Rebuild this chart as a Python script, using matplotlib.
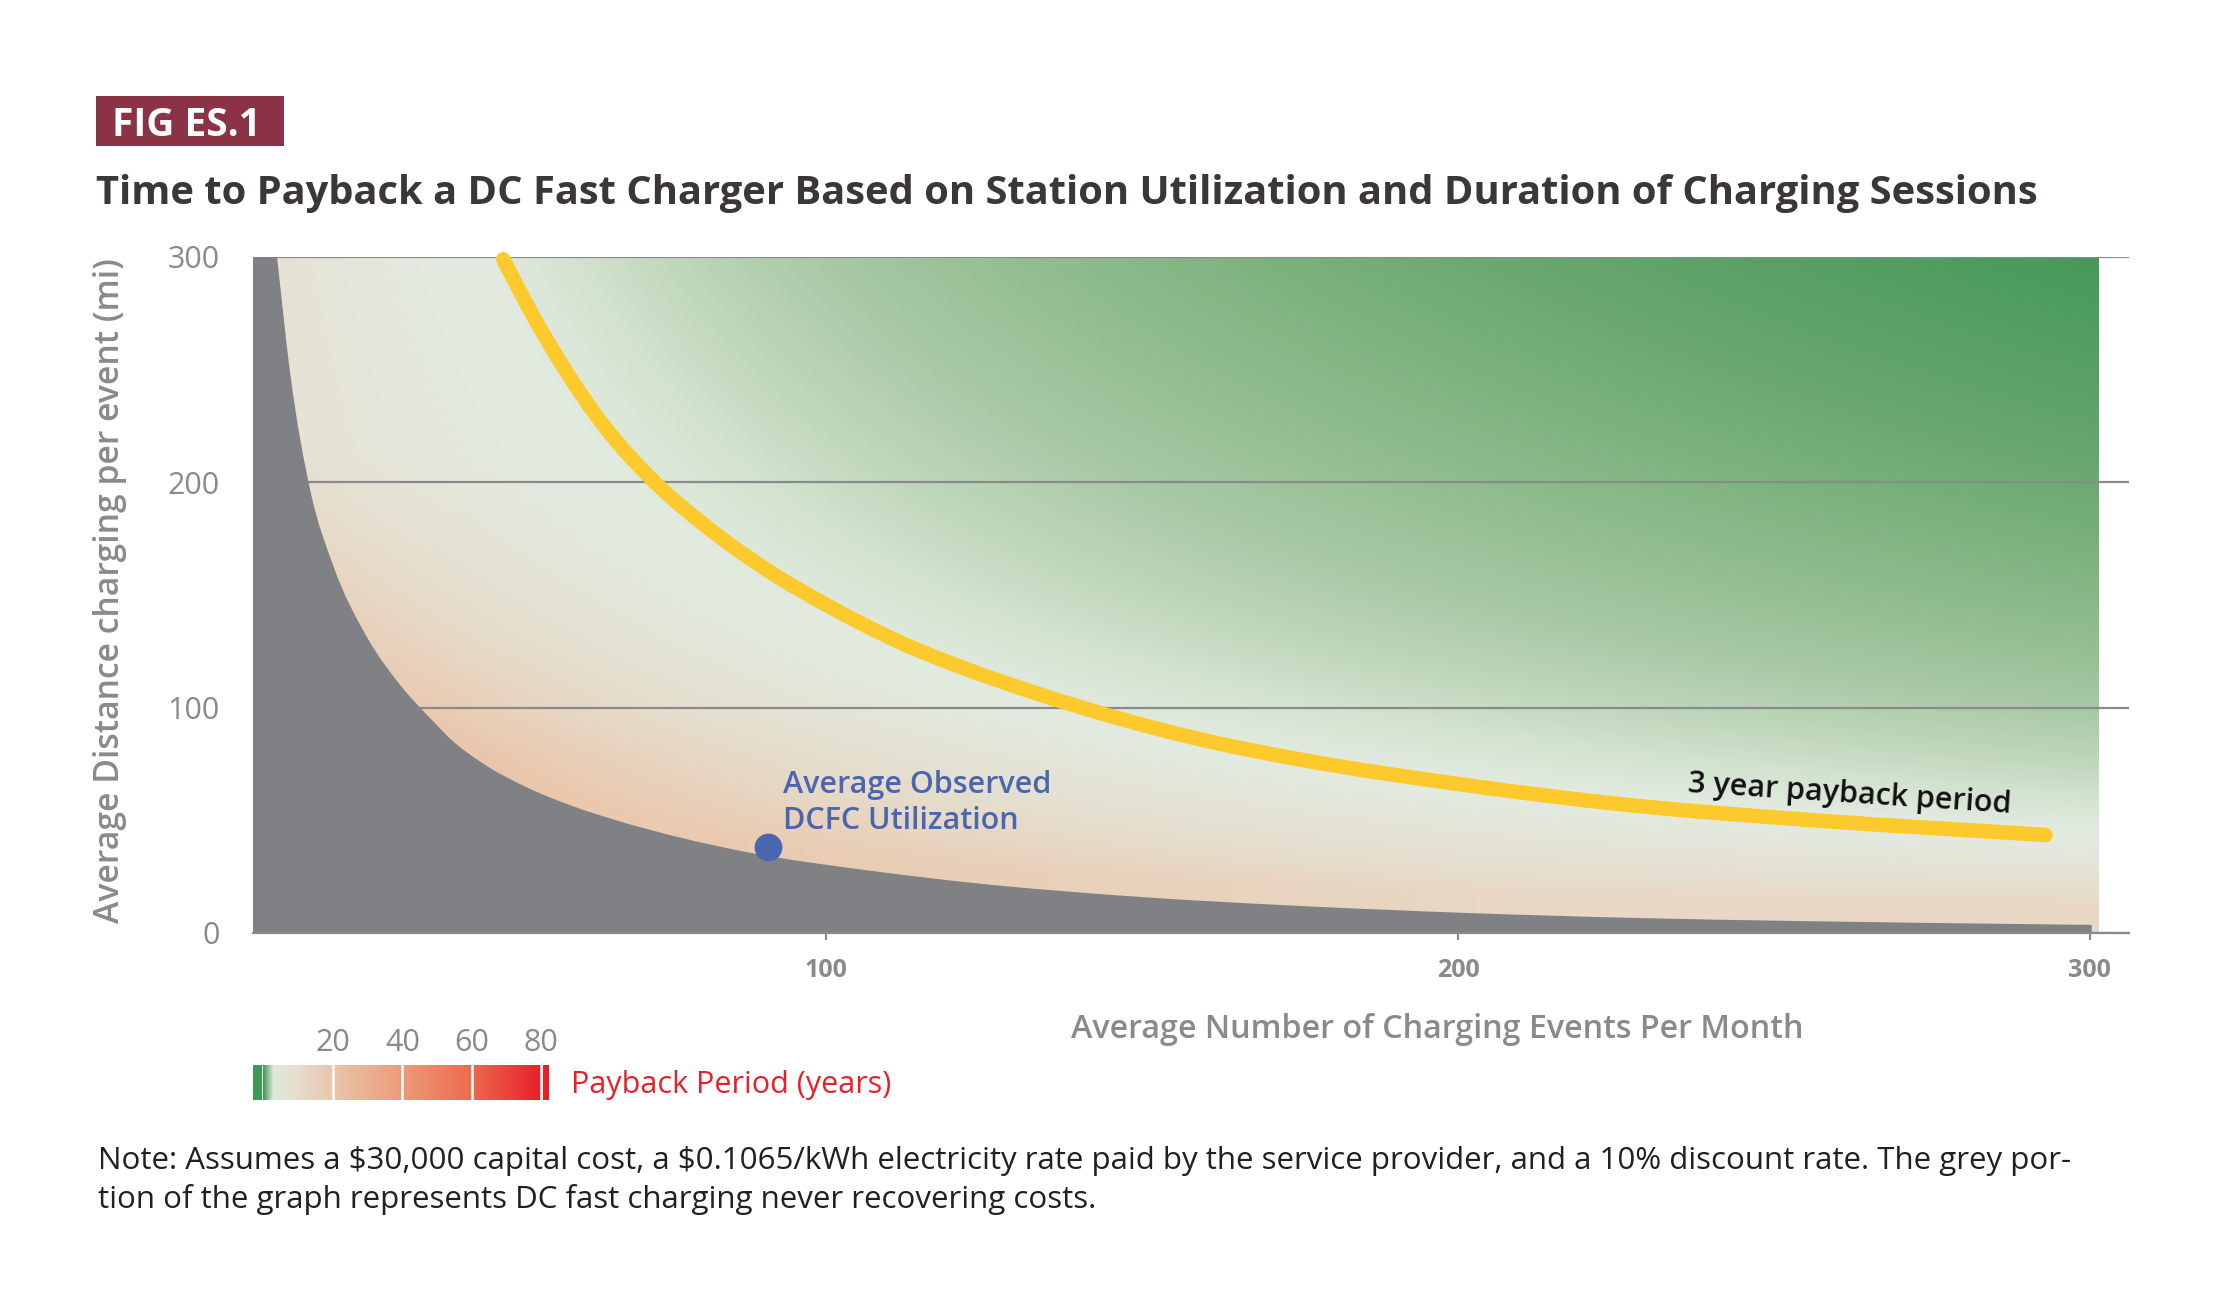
import numpy as np
import matplotlib
matplotlib.use("Agg")
import matplotlib.pyplot as plt
from matplotlib.colors import LinearSegmentedColormap, to_rgb
from matplotlib.patches import Rectangle, PathPatch
from matplotlib.path import Path

plt.rcParams['font.family'] = ['Open Sans', 'DejaVu Sans']

# --- data ---
# grey area: charger never recovers its costs (events/month, miles/event)
never_x = [13.1, 15.2, 18.4, 22.0, 27.4, 32.6, 37.8, 40.6, 45.6, 52.5, 59.7, 66.8,
           77.4, 88.0, 107.4, 123.3, 149.7, 175.0, 201.4, 227.7, 254.0, 300.3]
never_y = [300, 248, 196, 163, 131, 110, 94, 86, 75.4, 64.8, 56.5, 50,
           42, 35.6, 27.5, 22.2, 16, 12, 8.9, 6.7, 5.3, 3.6]

# 3 year payback curve
payback3_x = [48.9, 53.6, 64.2, 74.8, 80.1, 90.7, 101.1, 111.7, 122.3, 132.8, 143.4,
              154.0, 162.3, 175.0, 201.4, 227.7, 254.0, 293.0]
payback3_y = [299, 274, 227.5, 195, 182.5, 161, 144, 129, 117, 106.8, 97.6,
              89.5, 84, 77, 65.6, 56.6, 50.5, 43.5]
payback3_product = 13500  # events x miles along the 3-year curve

observed_x = [90.8]
observed_y = [38.2]

x_ticks = [100, 200, 300]
y_ticks = [0, 100, 200, 300]
legend_ticks = [20, 40, 60, 80]

# payback legend colour stops (years, colour)
legend_years = [0, 1.2, 2.8, 8, 20, 40, 60, 80]
legend_colors = ['#3f9a55', '#8dbd90', '#dfe8da', '#e5e1d2', '#e8c6ab', '#ed9b79', '#ec6b4e', '#e8202a']

# background shading stops above the 3-year curve (log ratio to 3-year product)
green_pos = [0, 0.15, 0.4, 0.62, 0.8, 1.0]
green_cols = ['#e2ebe0', '#d3e3cf', '#abcaa8', '#89b988', '#6aa870', '#47995a']
pale, beige, peach = '#e2ebe0', '#e6e1d3', '#eac6aa'

GREY = '#808185'
AXGREY = '#8a8a8d'


def smooth_segments(xs, ys):
    # cubic pieces through the read points, slopes from neighbouring secants
    x = np.asarray(xs, float)
    y = np.asarray(ys, float)
    d = np.diff(y) / np.diff(x)
    h = np.diff(x)
    m = np.empty_like(x)
    m[0], m[-1] = d[0], d[-1]
    m[1:-1] = (h[1:] * d[:-1] + h[:-1] * d[1:]) / (h[1:] + h[:-1])
    verts, codes = [], []
    for i in range(len(x) - 1):
        dx = h[i] / 3
        verts += [(x[i] + dx, y[i] + m[i] * dx), (x[i + 1] - dx, y[i + 1] - m[i + 1] * dx),
                  (x[i + 1], y[i + 1])]
        codes += [Path.CURVE4] * 3
    return verts, codes


W, H = 2223, 1305
fig = plt.figure(figsize=(W / 100, H / 100), dpi=100)

# main axes
ax = fig.add_axes([253 / W, 1 - 933 / H, (2129 - 253) / W, (933 - 257) / H])
x_lo, x_hi = 9.3, 306.2
field_hi = 301.4
ax.set_xlim(x_lo, x_hi)
ax.set_ylim(0, 300)

# background gradient
xs = np.linspace(x_lo, field_hi, 700)
ys = np.linspace(0.5, 300, 500)
X, Y = np.meshgrid(xs, ys)
u = np.log(X * Y / payback3_product)
gcmap = LinearSegmentedColormap.from_list('greens', list(zip(green_pos, green_cols)))
upper = gcmap(np.clip(u / 1.9, 0, 1))[..., :3]
w = np.clip(-u / 1.3, 0, 1)[..., None]
k = (np.clip((210 - Y) / 130, 0, 1) * np.clip(1.15 - X / 260, 0.35, 1))[..., None]
target = np.array(to_rgb(beige)) * (1 - k) + np.array(to_rgb(peach)) * k
lower = np.array(to_rgb(pale)) * (1 - w) + target * w
rgb = np.where(u[..., None] >= 0, upper, lower)
ax.imshow(rgb, extent=[x_lo, field_hi, 0.5, 300], origin='lower', aspect='auto',
          interpolation='bilinear', zorder=0)

# grid
ax.set_yticks(y_ticks)
ax.yaxis.grid(True, color=AXGREY, linewidth=1.6)
ax.set_axisbelow('line')

# never-pays-back region
bv, bc = smooth_segments(never_x, never_y)
verts = [(x_lo, 300), (never_x[0], never_y[0])] + bv + [(never_x[-1], 0), (x_lo, 0), (x_lo, 300)]
codes = [Path.MOVETO, Path.LINETO] + bc + [Path.LINETO, Path.LINETO, Path.CLOSEPOLY]
ax.add_patch(PathPatch(Path(verts, codes), facecolor=GREY, edgecolor='none', zorder=2))

# 3 year curve
yv, yc = smooth_segments(payback3_x, payback3_y)
ypath = Path([(payback3_x[0], payback3_y[0])] + yv, [Path.MOVETO] + yc)
ax.add_patch(PathPatch(ypath, fill=False, edgecolor='#fdca2e', linewidth=10.5,
                       capstyle='round', joinstyle='round', zorder=3, clip_on=False))
ax.text(262, 61.3, '3 year payback period', rotation=-3.7, rotation_mode='anchor',
        ha='center', va='center', fontsize=22, fontweight='semibold', color='#111111', zorder=4)

# observed utilization
ax.plot(observed_x, observed_y, 'o', markersize=19, color='#4a66b0', zorder=5, clip_on=False)
ax.text(93.2, 62.1, 'Average Observed', fontsize=22, fontweight='semibold',
        color='#4a66b0', va='baseline', zorder=5)
ax.text(93.2, 46.2, 'DCFC Utilization', fontsize=22, fontweight='semibold',
        color='#4a66b0', va='baseline', zorder=5)

# axes styling
for s in ['left', 'right', 'top']:
    ax.spines[s].set_visible(False)
ax.spines['bottom'].set_color(AXGREY)
ax.spines['bottom'].set_linewidth(1.6)
ax.set_xticks(x_ticks)
ax.set_xticklabels([str(t) for t in x_ticks], fontsize=18, fontweight='bold', color=AXGREY)
ax.tick_params(axis='x', length=5, width=1.5, color=AXGREY, pad=13)
ax.set_yticklabels([str(t) for t in y_ticks], fontsize=22, color=AXGREY)
ax.tick_params(axis='y', length=0, pad=24)

fig.text(110 / W, 1 - 591 / H, 'Average Distance charging per event (mi)', rotation=90,
         ha='center', va='center', fontsize=24.3, fontweight='semibold', color=AXGREY)
fig.text(1437 / W, 1 - 1030 / H, 'Average Number of Charging Events Per Month',
         ha='center', va='center', fontsize=23.2, fontweight='semibold', color=AXGREY)

# title block
fig.add_artist(Rectangle((96 / W, 1 - 146 / H), 188 / W, 50 / H, transform=fig.transFigure,
                         facecolor='#8b3344', edgecolor='none'))
fig.text(112 / W, 1 - 136 / H, 'FIG ES.1', fontsize=28, fontweight='bold', color='white', va='baseline')
fig.text(96 / W, 1 - 204 / H,
         'Time to Payback a DC Fast Charger Based on Station Utilization and Duration of Charging Sessions',
         fontsize=28.7, fontweight='bold', color='#3b3738', va='baseline')

# payback legend
cax = fig.add_axes([253 / W, 1 - 1100 / H, 296 / W, 35 / H])
cax.set_xlim(-3.0, 82.2)
cax.set_ylim(0, 1)
pcmap = LinearSegmentedColormap.from_list(
    'payback', [(v / legend_years[-1], c) for v, c in zip(legend_years, legend_colors)])
cax.imshow(np.linspace(0, 1, 500)[None, :], cmap=pcmap, extent=[0, 80, 0, 1], aspect='auto')
cax.axvspan(-3.0, -0.4, color='#3a9a55', linewidth=0)
cax.axvspan(80.4, 82.2, color='#ed1c24', linewidth=0)
for v in legend_ticks:
    cax.axvline(v, color='white', linewidth=1.8)
for s in cax.spines.values():
    s.set_visible(False)
cax.set_yticks([])
cax.xaxis.tick_top()
cax.set_xticks(legend_ticks)
cax.set_xticklabels([str(t) for t in legend_ticks], fontsize=22, color=AXGREY)
cax.tick_params(axis='x', length=0, pad=5)
fig.text(571 / W, 1 - 1085 / H, 'Payback Period (years)', fontsize=22, color='#e8202a', va='center')

# note
fig.text(98 / W, 1 - 1169 / H,
         'Note: Assumes a \\$30,000 capital cost, a \\$0.1065/kWh electricity rate paid by the '
         'service provider, and a 10% discount rate. The grey por-',
         fontsize=22.5, color='#231f20', va='baseline')
fig.text(98 / W, 1 - 1208 / H,
         'tion of the graph represents DC fast charging never recovering costs.',
         fontsize=22.5, color='#231f20', va='baseline')

fig.savefig('out.png', dpi=100)
